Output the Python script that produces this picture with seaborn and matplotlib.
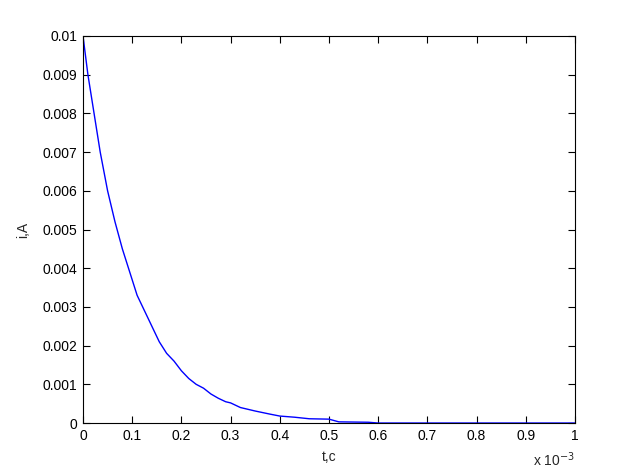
import numpy as np
import matplotlib
matplotlib.use('Agg')
import matplotlib.pyplot as plt
import seaborn as sns

# t in units of 1e-3 s, current in A
t_ms = [0, 0.01, 0.02, 0.035, 0.05, 0.065, 0.08, 0.095, 0.11, 0.125, 0.14, 0.155,
        0.17, 0.185, 0.2, 0.215, 0.23, 0.245, 0.26, 0.275, 0.29, 0.30, 0.32, 0.35,
        0.38, 0.40, 0.43, 0.46, 0.50, 0.52, 0.58, 0.60, 1.0]
i_a = [0.0100, 0.0090, 0.0082, 0.0070, 0.0060, 0.0052, 0.0045, 0.0039, 0.0033, 0.0029,
       0.0025, 0.0021, 0.0018, 0.0016, 0.00135, 0.00115, 0.0010, 0.0009, 0.00075,
       0.00064, 0.00055, 0.00052, 0.0004, 0.00031, 0.00023, 0.00018, 0.00015, 0.00011,
       0.00010, 0.00003, 0.00002, 0.0, 0.0]

x_ticks = [0, 0.1, 0.2, 0.3, 0.4, 0.5, 0.6, 0.7, 0.8, 0.9, 1]
x_labels = ['0', '0.1', '0.2', '0.3', '0.4', '0.5', '0.6', '0.7', '0.8', '0.9', '1']
y_ticks = [0, 0.001, 0.002, 0.003, 0.004, 0.005, 0.006, 0.007, 0.008, 0.009, 0.01]
y_labels = ['0', '0.001', '0.002', '0.003', '0.004', '0.005', '0.006', '0.007',
            '0.008', '0.009', '0.01']

sns.set_style('ticks')
plt.rcParams['font.family'] = ['Liberation Sans', 'DejaVu Sans']
plt.rcParams['font.size'] = 10
plt.rcParams['xtick.direction'] = 'in'
plt.rcParams['ytick.direction'] = 'in'

fig = plt.figure(figsize=(6.35, 4.76), dpi=100)
ax = fig.add_axes([0.1307, 0.1113, 0.7748, 0.8131])

sns.lineplot(x=t_ms, y=i_a, ax=ax, color='#0000ff', linewidth=1, sort=False, estimator=None)

ax.set_xlim(0, 1)
ax.set_ylim(0, 0.01)
ax.set_xticks(x_ticks)
ax.set_xticklabels(x_labels)
ax.set_yticks(y_ticks)
ax.set_yticklabels(y_labels)
ax.tick_params(which='both', top=True, right=True, length=5, width=0.8,
               colors='black', labelsize=10, pad=4)
for s in ax.spines.values():
    s.set_visible(True)
    s.set_color('black')
    s.set_linewidth(0.8)

ax.set_xlabel('t,c', fontsize=10, labelpad=5)
ax.set_ylabel('i,A', fontsize=10, labelpad=9)
ax.text(1.0, -0.07, 'x 10$^{-3}$', transform=ax.transAxes, ha='right', va='top', fontsize=10)

fig.savefig('out.png', dpi=100)
